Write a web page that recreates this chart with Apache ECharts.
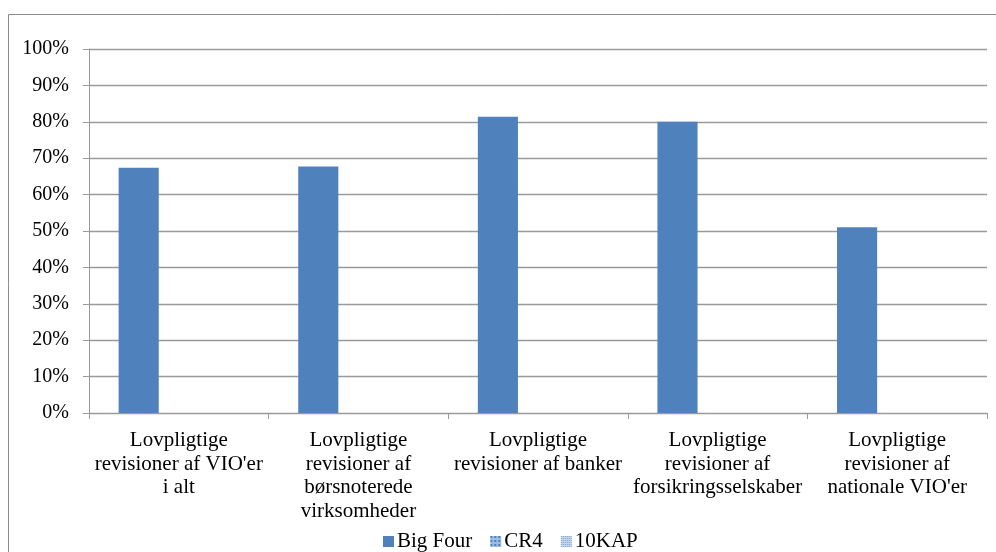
<!DOCTYPE html>
<html>
<head>
<meta charset="utf-8">
<script src="https://cdn.jsdelivr.net/npm/echarts@6/dist/echarts.min.js"></script>
<style>
  html, body { margin: 0; padding: 0; background: #fff; }
  #chart { width: 996px; height: 552px; }
</style>
</head>
<body>
<div id="chart"></div>
<script>
// Categories (audit types) and shares per auditor group, in percent
const categories = [
  "Lovpligtige\nrevisioner af VIO'er\ni alt",
  "Lovpligtige\nrevisioner af\nbørsnoterede\nvirksomheder",
  "Lovpligtige\nrevisioner af banker",
  "Lovpligtige\nrevisioner af\nforsikringsselskaber",
  "Lovpligtige\nrevisioner af\nnationale VIO'er"
];
const seriesNames = ["Big Four", "CR4", "10KAP"];
const bigFour = [67.4, 67.7, 81.4, 80.0, 51.0];
const cr4 = [null, null, null, null, null];
const kap10 = [null, null, null, null, null];
const yTicks = [0, 10, 20, 30, 40, 50, 60, 70, 80, 90, 100];

const font = "'Liberation Serif', 'Times New Roman', serif";
const gridGray = '#9a9a9a';

const chart = echarts.init(document.getElementById('chart'), null, { renderer: 'canvas' });
chart.setOption({
  animation: false,
  aria: { enabled: false },
  graphic: [{
    type: 'rect',
    shape: { x: 8.5, y: 14.5, width: 1000, height: 600 },
    style: { fill: 'none', stroke: '#8c8c8c', lineWidth: 1 },
    silent: true
  }],
  grid: { left: 89, right: 9, top: 49, bottom: 139 },
  legend: {
    left: 378,
    top: 526,
    itemWidth: 11,
    itemHeight: 11,
    itemGap: 18,
    icon: 'rect',
    textStyle: { fontFamily: font, fontSize: 21, color: '#000', padding: [0, 0, 0, -2] },
    data: seriesNames
  },
  xAxis: {
    type: 'category',
    data: categories,
    axisLine: { lineStyle: { color: gridGray, width: 1 } },
    axisTick: { show: true, length: 6, lineStyle: { color: gridGray } },
    axisLabel: {
      fontFamily: font, fontSize: 21, color: '#000',
      lineHeight: 23.5, margin: 16, interval: 0
    }
  },
  yAxis: {
    type: 'value',
    min: 0, max: 100, interval: 10,
    axisLine: { show: true, lineStyle: { color: gridGray, width: 1 } },
    axisTick: { show: true, length: 6, lineStyle: { color: gridGray } },
    splitLine: { lineStyle: { color: gridGray, width: 1.3 } },
    axisLabel: {
      fontFamily: font, fontSize: 20, color: '#000', margin: 20,
      formatter: v => yTicks.includes(v) ? v + '%' : ''
    }
  },
  series: [
    {
      name: seriesNames[0], type: 'bar', data: bigFour,
      barGap: '0%', barCategoryGap: '33%',
      itemStyle: { color: '#4F81BD' }
    },
    {
      name: seriesNames[1], type: 'bar', data: cr4,
      itemStyle: {
        color: '#9fbbe0',
        decal: { symbol: 'rect', symbolSize: 1, dashArrayX: [2, 2], dashArrayY: [2, 2], color: '#4F81BD', rotation: 0 }
      }
    },
    {
      name: seriesNames[2], type: 'bar', data: kap10,
      itemStyle: {
        color: '#c6d6ec',
        decal: { symbol: 'rect', symbolSize: 1, dashArrayX: [1, 1], dashArrayY: [1, 1], color: '#7fa0cf', rotation: 0 }
      }
    }
  ]
});
</script>
</body>
</html>
